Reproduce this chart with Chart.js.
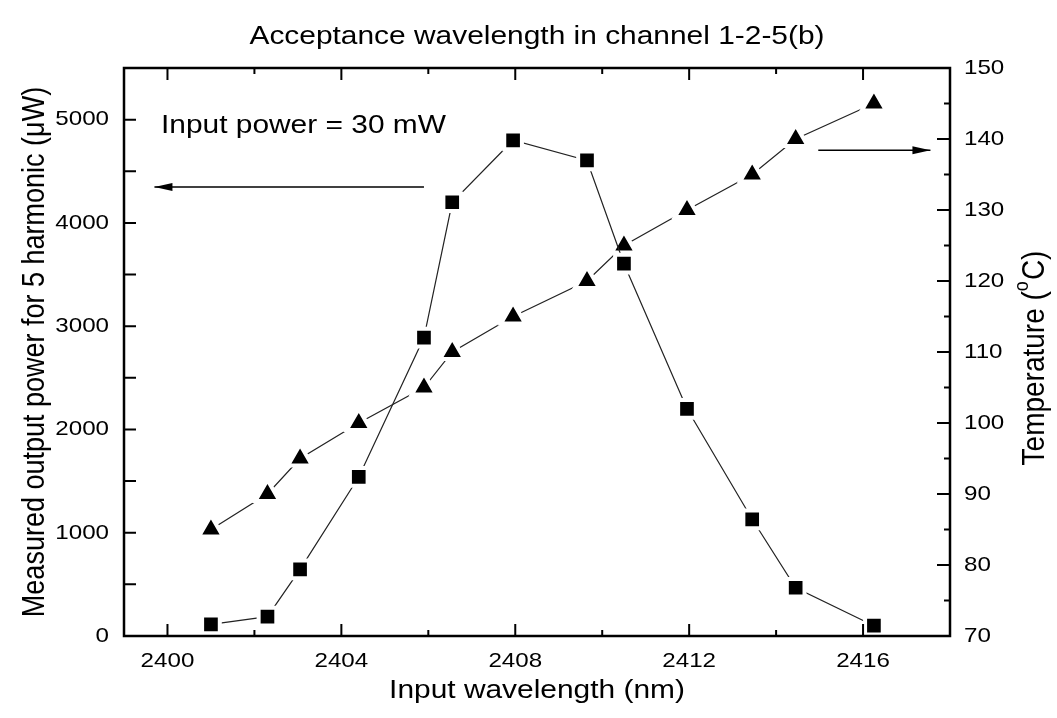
<!DOCTYPE html>
<html>
<head>
<meta charset="utf-8">
<title>Acceptance wavelength in channel 1-2-5(b)</title>
<script src="https://cdn.jsdelivr.net/npm/chart.js@4.4.0/dist/chart.umd.min.js"></script>
<style>
  html, body { margin: 0; padding: 0; background: #fff; }
  .chart-container { position: relative; width: 1057px; height: 718px; }
</style>
</head>
<body>
<div class="chart-container"><canvas id="acceptanceChart" width="1057" height="718"></canvas></div>
<script>
// input wavelength of each measurement (nm)
const wavelengths = [2401.0, 2402.3, 2403.05, 2404.4, 2405.9, 2406.55, 2407.95, 2409.65, 2410.5, 2411.95, 2413.45, 2414.45, 2416.25];
// measured output power for 5th harmonic (uW) - left axis, squares
const outputPower = [113, 187, 645, 1540, 2890, 4200, 4800, 4605, 3605, 2200, 1130, 467, 100];
// phase matching temperature (C) - right axis, triangles
const temperature = [85, 90, 95, 100, 105, 110, 115, 120, 125, 130, 135, 140, 145];

// axis ticks
const xTicks = [2400, 2404, 2408, 2412, 2416];
const xMinorTicks = [2402, 2406, 2410, 2414];
const powerTicks = [0, 1000, 2000, 3000, 4000, 5000];
const powerMinorTicks = [500, 1500, 2500, 3500, 4500];
const tempTicks = [70, 80, 90, 100, 110, 120, 130, 140, 150];
const tempMinorTicks = [75, 85, 95, 105, 115, 125, 135, 145];

// texts
const chartTitle = 'Acceptance wavelength in channel 1-2-5(b)';
const xTitle = 'Input wavelength (nm)';
const yTitle = 'Measured output power for 5 harmonic (\u03bcW)';
const noteText = 'Input power = 30 mW';

// annotation (data coordinates)
const notePos = [2399.85, 4870];
const powerArrow = [2405.9, 2399.7, 4348];   // x from, x to, y (left axis)
const tempArrow = [2414.97, 2417.55, 138.4]; // x from, x to, y (right axis)

const FONT = '"Liberation Sans", Arial, Helvetica, sans-serif';
const STRETCH = 1.15; // the original figure is a little wider than tall

function drawText(ctx, text, x, y, size, align, baseline, rot) {
    ctx.save();
    ctx.translate(x, y);
    if (rot) {
        ctx.rotate(rot);
        ctx.scale(1, STRETCH);
    } else {
        ctx.scale(STRETCH, 1);
    }
    ctx.font = size + 'px ' + FONT;
    ctx.textAlign = align;
    ctx.textBaseline = baseline;
    ctx.fillText(text, 0, 0);
    ctx.restore();
}

const frameAndNotes = {
    id: 'frameAndNotes',
    afterDraw(chart) {
        const ctx = chart.ctx;
        const area = chart.chartArea;
        const sx = chart.scales.x, sy = chart.scales.y, sy1 = chart.scales.y1;
        const midX = (area.left + area.right) / 2;
        const midY = (area.top + area.bottom) / 2;
        ctx.save();
        ctx.strokeStyle = '#000';
        ctx.fillStyle = '#000';
        ctx.lineWidth = 2.5;
        ctx.strokeRect(area.left, area.top, area.right - area.left, area.bottom - area.top);

        // inward ticks
        ctx.lineWidth = 2;
        ctx.beginPath();
        const vTick = (v, len) => {
            const px = sx.getPixelForValue(v);
            ctx.moveTo(px, area.bottom); ctx.lineTo(px, area.bottom - len);
            ctx.moveTo(px, area.top); ctx.lineTo(px, area.top + len);
        };
        xTicks.forEach(v => vTick(v, 12));
        xMinorTicks.forEach(v => vTick(v, 6));
        powerTicks.concat(powerMinorTicks).forEach(v => {
            const py = sy.getPixelForValue(v);
            ctx.moveTo(area.left, py); ctx.lineTo(area.left + 12, py);
        });
        tempTicks.forEach(v => {
            const py = sy1.getPixelForValue(v);
            ctx.moveTo(area.right, py); ctx.lineTo(area.right - 13, py);
        });
        tempMinorTicks.forEach(v => {
            const py = sy1.getPixelForValue(v);
            ctx.moveTo(area.right, py); ctx.lineTo(area.right - 6, py);
        });
        ctx.stroke();

        // tick labels
        xTicks.forEach(v => drawText(ctx, String(v), sx.getPixelForValue(v), area.bottom + 25, 21, 'center', 'middle', 0));
        powerTicks.forEach(v => drawText(ctx, String(v), area.left - 15, sy.getPixelForValue(v), 21, 'right', 'middle', 0));
        tempTicks.forEach(v => drawText(ctx, String(v), area.right + 14, sy1.getPixelForValue(v), 21, 'left', 'middle', 0));

        // titles
        drawText(ctx, chartTitle, midX, 37, 26, 'center', 'middle', 0);
        drawText(ctx, xTitle, midX, 691, 26, 'center', 'middle', 0);
        drawText(ctx, yTitle, 35, midY, 27, 'center', 'middle', -Math.PI / 2);

        // right axis title with superscript degree "o"
        ctx.save();
        ctx.font = '28px ' + FONT;
        const w1 = ctx.measureText('Temperature (').width;
        const w3 = ctx.measureText('C)').width;
        ctx.font = '18px ' + FONT;
        const w2 = ctx.measureText('o').width + 1;
        const total = w1 + w2 + w3;
        ctx.translate(1035, midY + 6);
        ctx.rotate(-Math.PI / 2);
        ctx.scale(1, STRETCH);
        ctx.textBaseline = 'middle';
        ctx.textAlign = 'left';
        ctx.font = '28px ' + FONT;
        ctx.fillText('Temperature (', -total / 2, 0);
        ctx.font = '18px ' + FONT;
        ctx.fillText('o', -total / 2 + w1, -11);
        ctx.font = '28px ' + FONT;
        ctx.fillText('C)', -total / 2 + w1 + w2, 0);
        ctx.restore();

        // note text
        drawText(ctx, noteText, sx.getPixelForValue(notePos[0]), sy.getPixelForValue(notePos[1]), 26, 'left', 'alphabetic', 0);

        // arrows
        const arrow = (x0, x1, y) => {
            ctx.lineWidth = 1.5;
            ctx.beginPath();
            ctx.moveTo(x0, y); ctx.lineTo(x1, y);
            ctx.stroke();
            const dir = x1 > x0 ? 1 : -1;
            ctx.beginPath();
            ctx.moveTo(x1, y);
            ctx.lineTo(x1 - dir * 18, y - 4);
            ctx.lineTo(x1 - dir * 18, y + 4);
            ctx.closePath();
            ctx.fill();
        };
        arrow(sx.getPixelForValue(powerArrow[0]), sx.getPixelForValue(powerArrow[1]), sy.getPixelForValue(powerArrow[2]));
        arrow(sx.getPixelForValue(tempArrow[0]), sx.getPixelForValue(tempArrow[1]), sy1.getPixelForValue(tempArrow[2]));
        ctx.restore();
    }
};

const ctx = document.getElementById('acceptanceChart').getContext('2d');
new Chart(ctx, {
    type: 'line',
    data: {
        datasets: [{
            label: 'Output power',
            data: wavelengths.map((w, i) => ({ x: w, y: outputPower[i] })),
            yAxisID: 'y',
            borderColor: '#222',
            borderWidth: 1.2,
            pointStyle: 'rect',
            pointRadius: 12.5,
            pointBackgroundColor: '#000',
            pointBorderColor: '#fff',
            pointBorderWidth: 4,
            tension: 0
        }, {
            label: 'Temperature',
            data: wavelengths.map((w, i) => ({ x: w, y: temperature[i] })),
            yAxisID: 'y1',
            borderColor: '#222',
            borderWidth: 1.2,
            pointStyle: 'triangle',
            pointRadius: 14,
            pointBackgroundColor: '#000',
            pointBorderColor: '#fff',
            pointBorderWidth: 4,
            tension: 0
        }]
    },
    options: {
        responsive: false,
        animation: false,
        devicePixelRatio: 1,
        layout: { padding: { top: 68 } },
        plugins: {
            legend: { display: false },
            tooltip: { enabled: false },
            title: { display: false }
        },
        scales: {
            x: {
                type: 'linear',
                position: 'bottom',
                min: 2399,
                max: 2418,
                grid: { display: false, drawTicks: false },
                border: { display: false },
                ticks: { display: false },
                afterFit: s => { s.height = 82; }
            },
            y: {
                type: 'linear',
                position: 'left',
                min: 0,
                max: 5500,
                grid: { display: false, drawTicks: false },
                border: { display: false },
                ticks: { display: false },
                afterFit: s => { s.width = 124; }
            },
            y1: {
                type: 'linear',
                position: 'right',
                min: 70,
                max: 150,
                grid: { display: false, drawTicks: false },
                border: { display: false },
                ticks: { display: false },
                afterFit: s => { s.width = 107; }
            }
        }
    },
    plugins: [frameAndNotes]
});
</script>
</body>
</html>
